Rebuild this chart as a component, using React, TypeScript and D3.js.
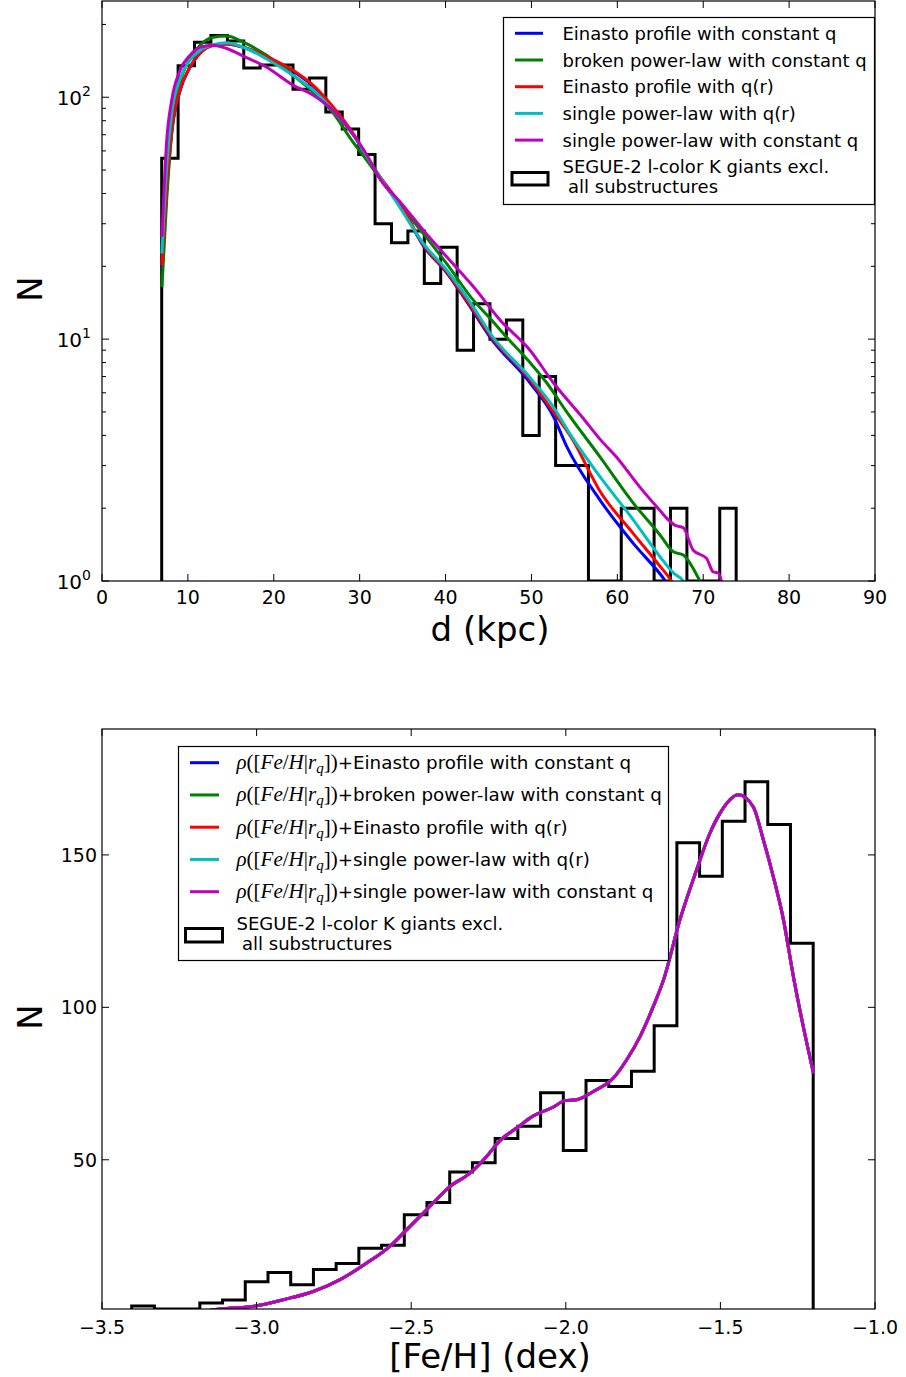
import React from 'react';
import * as d3 from 'd3';

// ---------- Top panel: distance distribution ----------
const distBinStart = 6.95;
const distBinWidth = 1.911;
const distCounts = [56, 135, 169, 180, 171, 132, 136, 136, 108, 120, 87, 74, 58, 30, 25, 28, 17, 24, 9, 14, 10, 12, 4, 7, 3, 3, 0, 0, 2, 2, 0, 2, 0, 0, 2];
const distTicks = [0, 10, 20, 30, 40, 50, 60, 70, 80, 90];

const distEinastoConstQ: [number, number][] = [
  [6.98, 19.8], [7.53, 41], [8.11, 71], [9.08, 106], [10.24, 133], [11.41, 152], [12.96, 164], [14.51, 166],
  [16.45, 161], [19.17, 147], [22.27, 128], [24.6, 111], [26.93, 90], [29.26, 70], [31.6, 51], [33.53, 41],
  [34.69, 36], [37.41, 24.3], [40.13, 18.8], [43.23, 13.0], [45.17, 10.2], [49.83, 6.6], [52.55, 4.8],
  [54.1, 3.6], [57.98, 2.16], [61.86, 1.43], [65.6, 1.0], [66.2, 0.93],
];
const distBrokenConstQ: [number, number][] = [
  [6.98, 16.4], [7.53, 37.5], [8.11, 70.8], [9.08, 114], [10.24, 144], [11.41, 164], [12.96, 177], [14.51, 179],
  [16.45, 169], [19.17, 149], [22.27, 123], [24.6, 105], [26.93, 86], [28.87, 68], [30.81, 55], [33.53, 40.5],
  [34.69, 35.8], [37.41, 27.3], [40.13, 20.5], [43.23, 14.5], [45.17, 12.2], [47.1, 10.2], [49.83, 8.0],
  [51.77, 6.6], [54.1, 5.0], [57.98, 3.26], [61.86, 2.1], [64.97, 1.55], [66.52, 1.32], [67.68, 1.28],
  [69.62, 1.0], [70.1, 0.93],
];
const distEinastoQr: [number, number][] = [
  [6.98, 20.2], [7.53, 42.6], [8.11, 73], [9.08, 107], [10.24, 133], [11.41, 152], [12.96, 164], [14.51, 166],
  [16.45, 161], [19.17, 147], [22.27, 129], [24.6, 112], [26.93, 91], [29.26, 70.8], [31.6, 51.5], [33.53, 41.3],
  [34.69, 36.4], [37.41, 24.5], [40.13, 19.0], [43.23, 13.2], [45.17, 10.4], [49.83, 6.8], [52.55, 5.0],
  [54.7, 3.89], [57.98, 2.35], [61.86, 1.57], [64.97, 1.15], [66.3, 1.0], [66.8, 0.93],
];
const distSingleQr: [number, number][] = [
  [6.98, 22.6], [7.53, 51.5], [8.11, 85.6], [9.08, 119], [10.24, 142], [11.41, 156], [12.96, 165], [14.51, 168],
  [16.45, 161], [19.17, 144], [22.27, 123], [24.6, 107], [26.93, 88], [29.26, 69.7], [31.6, 51.5], [33.53, 40.5],
  [34.69, 35], [37.41, 24.9], [40.13, 19.3], [43.23, 13.6], [45.17, 10.6], [49.9, 6.9], [52.55, 5.25],
  [54.6, 4.0], [57.98, 2.7], [61.86, 1.79], [64.97, 1.26], [66.52, 1.08], [67.68, 1.0], [68.2, 0.93],
];
const distSingleConstQ: [number, number][] = [
  [6.98, 26.5], [7.53, 66], [8.11, 97], [9.08, 129], [10.24, 149], [11.41, 161], [12.96, 164], [14.51, 159],
  [16.45, 148], [19.17, 133], [22.27, 112], [24.6, 102], [26.93, 88], [28.87, 73], [30.81, 58], [32.37, 46],
  [34.69, 37], [37.41, 28.2], [40.13, 21.9], [43.23, 16.5], [46.34, 12.0], [49.83, 9.0], [52.55, 6.6],
  [56.04, 4.7], [58.0, 3.85], [59.92, 3.25], [62.6, 2.45], [65.0, 1.95], [65.74, 1.82], [66.71, 1.70],
  [67.68, 1.66], [68.84, 1.34], [70.39, 1.24], [71.17, 1.09], [71.75, 1.08], [72.13, 1.0], [72.4, 0.93],
];

// ---------- Bottom panel: metallicity distribution ----------
const fehBinStart = -3.404;
const fehBinWidth = 0.07347;
const fehCounts = [2, 1, 0, 3, 4, 10, 13, 9, 14, 16, 21, 22, 32, 36, 46, 49, 57, 61, 72, 53, 76, 74, 79, 94, 154, 143, 161, 174, 160, 121];
const fehTicks = [-3.5, -3.0, -2.5, -2.0, -1.5, -1.0];
const fehYTicks = [50, 100, 150];

const fehModel: [number, number][] = [
  [-3.15, 0.6], [-3.118, 1.05], [-3.0, 2.1], [-2.914, 4.1], [-2.817, 6.8], [-2.730, 10.7], [-2.644, 16.1],
  [-2.569, 21.6], [-2.515, 27.0], [-2.450, 33.6], [-2.375, 41.2], [-2.310, 45.6], [-2.256, 51.1],
  [-2.213, 56.3], [-2.159, 60.4], [-2.105, 64.4], [-2.040, 67.3], [-2.003, 69.4], [-1.965, 69.7],
  [-1.911, 72.4], [-1.846, 76.8], [-1.803, 82.8], [-1.760, 90.4], [-1.717, 100.3], [-1.684, 109],
  [-1.631, 128.7], [-1.577, 145.1], [-1.534, 157.1], [-1.501, 163.7], [-1.442, 169.7], [-1.394, 165.8],
  [-1.361, 154.9], [-1.329, 142.9], [-1.296, 128.7], [-1.264, 110.1], [-1.232, 93.7], [-1.199, 78.4],
];

const modelColors = ['#0000ff', '#008000', '#ff0000', '#00bfbf', '#bf00bf'];
const topLabels = [
  'Einasto profile with constant q',
  'broken power-law with constant q',
  'Einasto profile with q(r)',
  'single power-law with q(r)',
  'single power-law with constant q',
];
const bottomLabels = [
  '+Einasto profile with constant q',
  '+broken power-law with constant q',
  '+Einasto profile with q(r)',
  '+single power-law with q(r)',
  '+single power-law with constant q',
];
const histLabel1 = 'SEGUE-2 l-color K giants excl.';
const histLabel2 = 'all substructures';

const SANS = 'DejaVu Sans, sans-serif';
const SERIF = 'Liberation Serif, serif';

function stepPath(start: number, width: number, counts: number[], x: (v: number) => number, y: (v: number) => number, yBase: number) {
  const pts: [number, number][] = [[x(start), yBase]];
  counts.forEach((c, i) => {
    const yy = y(c);
    pts.push([x(start + i * width), yy]);
    pts.push([x(start + (i + 1) * width), yy]);
  });
  pts.push([x(start + counts.length * width), yBase]);
  return d3.line()(pts) as string;
}

export default function App() {
  // top panel
  const t = { l: 102, r: 875, t: 1, b: 581 };
  const xT = d3.scaleLinear().domain([0, 90]).range([t.l, t.r]);
  const yT = d3.scaleLog().domain([1, 250]).range([t.b, t.t]).clamp(true);
  const yTu = d3.scaleLog().domain([1, 250]).range([t.b, t.t]);
  const lineT = d3.line<[number, number]>().x(d => xT(d[0])).y(d => yTu(d[1])).curve(d3.curveMonotoneX);
  const topCurves = [distEinastoConstQ, distBrokenConstQ, distEinastoQr, distSingleQr, distSingleConstQ];

  // bottom panel
  const b = { l: 102, r: 875, t: 729, b: 1309 };
  const xB = d3.scaleLinear().domain([-3.5, -1.0]).range([b.l, b.r]);
  const yB = d3.scaleLinear().domain([1.05, 191.3]).range([b.b, b.t]).clamp(true);
  const yBu = d3.scaleLinear().domain([1.05, 191.3]).range([b.b, b.t]);
  const lineB = d3.line<[number, number]>().x(d => xB(d[0])).y(d => yBu(d[1])).curve(d3.curveMonotoneX);

  const minorT: number[] = [];
  [1, 10, 100].forEach(dec => {
    for (let k = 2; k <= 9; k++) {
      const v = dec * k;
      if (v <= 250) minorT.push(v);
    }
  });

  const majorLen = 7;
  const minorLen = 4;

  return (
    <svg width={906} height={1377} style={{ display: 'block', position: 'absolute', left: 0, top: 0 }}>
      <defs>
        <clipPath id="clipTop"><rect x={t.l} y={t.t} width={t.r - t.l} height={t.b - t.t} /></clipPath>
        <clipPath id="clipBot"><rect x={b.l} y={b.t} width={b.r - b.l} height={b.b - b.t} /></clipPath>
      </defs>
      <rect x={0} y={0} width={906} height={1377} fill="#fff" />

      {/* ---------- TOP PANEL ---------- */}
      <g clipPath="url(#clipTop)">
        <path d={stepPath(distBinStart, distBinWidth, distCounts, xT, (v) => yT(Math.max(v, 1)), t.b)} fill="none" stroke="#000" strokeWidth={3} strokeLinejoin="miter" />
        {topCurves.map((c, i) => (
          <path key={i} d={lineT(c) as string} fill="none" stroke={modelColors[i]} strokeWidth={3} />
        ))}
      </g>
      <rect x={t.l} y={t.t} width={t.r - t.l} height={t.b - t.t} fill="none" stroke="#000" strokeWidth={1.2} />
      {distTicks.map(v => (
        <g key={v}>
          <line x1={xT(v)} x2={xT(v)} y1={t.b} y2={t.b - majorLen} stroke="#000" />
          <line x1={xT(v)} x2={xT(v)} y1={t.t} y2={t.t + majorLen} stroke="#000" />
          <text x={xT(v)} y={t.b + 23} textAnchor="middle" fontFamily={SANS} fontSize={19}>{v}</text>
        </g>
      ))}
      {[1, 10, 100].map((v, i) => (
        <g key={v}>
          <line x1={t.l} x2={t.l + majorLen} y1={yT(v)} y2={yT(v)} stroke="#000" />
          <line x1={t.r} x2={t.r - majorLen} y1={yT(v)} y2={yT(v)} stroke="#000" />
          <text x={91} y={yT(v) + 8} textAnchor="end" fontFamily={SANS} fontSize={20}>10<tspan dy={-9} fontSize={14}>{i}</tspan></text>
        </g>
      ))}
      {minorT.map(v => (
        <g key={v}>
          <line x1={t.l} x2={t.l + minorLen} y1={yT(v)} y2={yT(v)} stroke="#000" />
          <line x1={t.r} x2={t.r - minorLen} y1={yT(v)} y2={yT(v)} stroke="#000" />
        </g>
      ))}
      <text x={490} y={641} textAnchor="middle" fontFamily={SANS} fontSize={34}>d (kpc)</text>
      <text transform={`translate(42,289) rotate(-90)`} textAnchor="middle" fontFamily={SANS} fontSize={34}>N</text>

      {/* top legend */}
      <g>
        <rect x={503.5} y={17.5} width={371} height={187} fill="#fff" stroke="#000" strokeWidth={1.2} />
        {topLabels.map((lab, i) => {
          const yy = 33.3 + i * 26.7;
          return (
            <g key={lab}>
              <line x1={515} x2={543} y1={yy} y2={yy} stroke={modelColors[i]} strokeWidth={3} />
              <text x={562.5} y={yy + 6.5} fontFamily={SANS} fontSize={18}>{lab}</text>
            </g>
          );
        })}
        <rect x={512} y={172.5} width={36} height={12.5} fill="#fff" stroke="#000" strokeWidth={3} />
        <text x={562.5} y={166.7 + 6.5} fontFamily={SANS} fontSize={18}>{histLabel1}</text>
        <text x={568} y={186.7 + 6.5} fontFamily={SANS} fontSize={18}>{histLabel2}</text>
      </g>

      {/* ---------- BOTTOM PANEL ---------- */}
      <g clipPath="url(#clipBot)">
        <path d={stepPath(fehBinStart, fehBinWidth, fehCounts, xB, yB, b.b)} fill="none" stroke="#000" strokeWidth={3} />
        {modelColors.map((col, i) => (
          <path key={i} d={lineB(fehModel) as string} fill="none" stroke={col} strokeWidth={3} />
        ))}
      </g>
      <rect x={b.l} y={b.t} width={b.r - b.l} height={b.b - b.t} fill="none" stroke="#000" strokeWidth={1.2} />
      {fehTicks.map(v => (
        <g key={v}>
          <line x1={xB(v)} x2={xB(v)} y1={b.b} y2={b.b - majorLen} stroke="#000" />
          <line x1={xB(v)} x2={xB(v)} y1={b.t} y2={b.t + majorLen} stroke="#000" />
          <text x={xB(v)} y={b.b + 25} textAnchor="middle" fontFamily={SANS} fontSize={19}>{'\u2212' + Math.abs(v).toFixed(1)}</text>
        </g>
      ))}
      {fehYTicks.map(v => (
        <g key={v}>
          <line x1={b.l} x2={b.l + majorLen} y1={yB(v)} y2={yB(v)} stroke="#000" />
          <line x1={b.r} x2={b.r - majorLen} y1={yB(v)} y2={yB(v)} stroke="#000" />
          <text x={97} y={yB(v) + 7} textAnchor="end" fontFamily={SANS} fontSize={19}>{v}</text>
        </g>
      ))}
      <text x={490} y={1368} textAnchor="middle" fontFamily={SANS} fontSize={34}>[Fe/H] (dex)</text>
      <text transform={`translate(42,1017) rotate(-90)`} textAnchor="middle" fontFamily={SANS} fontSize={34}>N</text>

      {/* bottom legend */}
      <g>
        <rect x={178.5} y={746.5} width={490} height={214} fill="#fff" stroke="#000" strokeWidth={1.2} />
        {bottomLabels.map((lab, i) => {
          const yy = 762.7 + i * 32.25;
          return (
            <g key={lab}>
              <line x1={190} x2={219} y1={yy} y2={yy} stroke={modelColors[i]} strokeWidth={3} />
              <text x={236.5} y={yy + 6.5} fontSize={18}>
                <tspan fontFamily={SERIF} fontStyle="italic" fontSize={21}>ρ</tspan>
                <tspan fontFamily={SERIF} fontSize={21}>([</tspan>
                <tspan fontFamily={SERIF} fontStyle="italic" fontSize={21}>Fe</tspan>
                <tspan fontFamily={SERIF} fontSize={21}>/</tspan>
                <tspan fontFamily={SERIF} fontStyle="italic" fontSize={21}>H</tspan>
                <tspan fontFamily={SERIF} fontSize={21}>|</tspan>
                <tspan fontFamily={SERIF} fontStyle="italic" fontSize={21}>r</tspan>
                <tspan fontFamily={SERIF} fontStyle="italic" fontSize={15} dy={4}>q</tspan>
                <tspan fontFamily={SERIF} fontSize={21} dy={-4}>])</tspan>
                <tspan fontFamily={SANS} fontSize={18.3}>{lab}</tspan>
              </text>
            </g>
          );
        })}
        <rect x={185.5} y={928.5} width={37} height={13.5} fill="#fff" stroke="#000" strokeWidth={3} />
        <text x={236.5} y={923 + 6.5} fontFamily={SANS} fontSize={18}>{histLabel1}</text>
        <text x={242} y={943.5 + 6.5} fontFamily={SANS} fontSize={18}>{histLabel2}</text>
      </g>
    </svg>
  );
}
